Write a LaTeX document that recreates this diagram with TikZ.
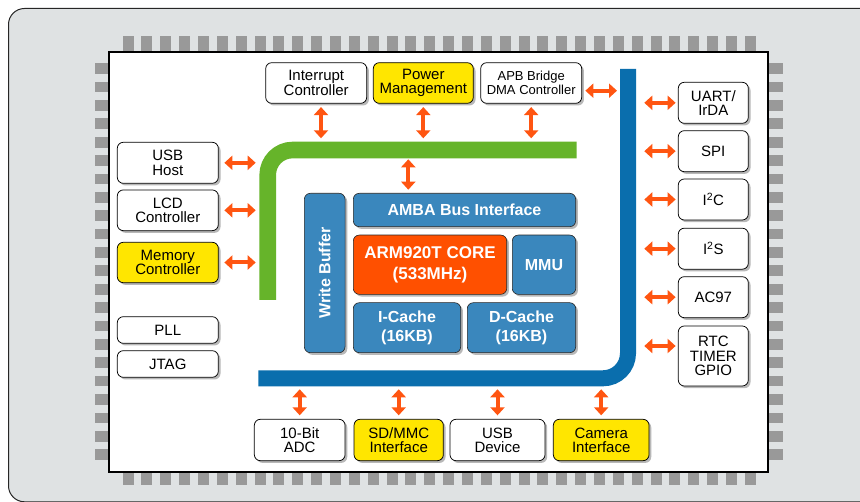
\documentclass[tikz,border=0pt]{standalone}
\usepackage{fontspec}
\usepackage{graphicx}
\setmainfont{Liberation Sans}
\usetikzlibrary{arrows.meta,shadows,calc}
\definecolor{panelgray}{HTML}{DFE2E3}
\definecolor{pingray}{HTML}{999999}
\definecolor{barblue}{HTML}{0A6EAD}
\definecolor{boxblue}{HTML}{3A87BD}
\definecolor{coreorange}{HTML}{FF5000}
\definecolor{myyellow}{HTML}{FFE600}
\definecolor{bargreen}{HTML}{66B42A}
\definecolor{arrorange}{HTML}{FF5511}
\begin{document}
\begin{tikzpicture}[x=1pt,y=-1pt,
  shad/.style={drop shadow={shadow xshift=2.2pt,shadow yshift=-2.2pt,fill=black!28,opacity=1}},
  box/.style={draw=black, line width=0.75pt, rounded corners=6pt, fill=white, align=center,
    inner sep=0pt, font=\fontsize{15}{14.3}\selectfont, shad},
  ybox/.style={box, fill=myyellow},
  bbox/.style={draw=black!85, line width=0.6pt, rounded corners=6pt, fill=boxblue, text=white,
    align=center, inner sep=0pt, font=\bfseries\fontsize{16}{19}\selectfont, shad},
  biarrow/.style={draw=arrorange, line width=4pt,
    {Triangle[width=14pt,length=8pt]}-{Triangle[width=14pt,length=8pt]}},
  pin/.style={fill=pingray, draw=none}
]
\useasboundingbox (0,0) rectangle (860,502);
\clip (0,0) rectangle (860,502);
% outer panel
\draw[fill=panelgray, draw=black!85, line width=1pt, rounded corners=16pt] (8.5,8.5) rectangle (900,501.8);
% pins
\foreach \i in {0,...,33} {
  \fill[pin] ({122.5+\i*18.86},36) rectangle ++(11,16);
  \fill[pin] ({122.5+\i*18.86},472) rectangle ++(11,13);
}
\foreach \i in {0,...,21} {
  \fill[pin] (95,{63.3+\i*18.38}) rectangle ++(14,10.7);
  \fill[pin] (768,{63.3+\i*18.38}) rectangle ++(15,10.7);
}
% chip body
\draw[fill=white, draw=black, line width=1.3pt] (109,52) rectangle (768,472);
% buses
\draw[bargreen, line width=16.6pt, rounded corners=25pt] (267.7,300) -- (267.7,150) -- (576.7,150);
\draw[barblue, line width=16pt, rounded corners=25pt] (628,69) -- (628,378.3) -- (258.3,378.3);
\coordinate (gtop) at (0,141.7);
\coordinate (gleft) at (259.3,0);
\coordinate (gbot) at (408.3,158.3);
\coordinate (bright) at (636,0);
\coordinate (bleft) at (620,0);
\coordinate (bbot) at (0,386.7);
% top peripherals
\node[box, minimum width=101pt, minimum height=40.6pt] (intr) at (316.2,83) {Interrupt\\Controller};
\node[ybox, minimum width=100pt, minimum height=40.6pt] (pwr) at (423.3,83) {Power\\Management};
\node[box, minimum width=101pt, minimum height=40.6pt, font=\fontsize{13}{14}\selectfont] (apb) at (531.2,83) {APB Bridge\\DMA Controller};
% left peripherals
\node[box, minimum width=101pt, minimum height=41pt] (usbh) at (167.8,162.8) {USB\\Host};
\node[box, minimum width=101pt, minimum height=40.7pt] (lcd) at (167.8,210.3) {LCD\\Controller};
\node[ybox, minimum width=101pt, minimum height=40.4pt] (mem) at (167.8,262.5) {Memory\\Controller};
\node[box, minimum width=101pt, minimum height=26.6pt] (pll) at (167.8,330) {PLL};
\node[box, minimum width=101pt, minimum height=26.6pt] (jtag) at (167.8,364) {JTAG};
% right peripherals
\node[box, minimum width=70pt, minimum height=41pt] (uart) at (713.3,102.8) {UART/\\IrDA};
\node[box, minimum width=70pt, minimum height=41pt] (spi) at (713.3,151.2) {SPI};
\node[box, minimum width=70pt, minimum height=41pt] (i2c) at (713.3,199.5) {I\textsuperscript{2}C};
\node[box, minimum width=70pt, minimum height=41pt] (i2s) at (713.3,248.7) {I\textsuperscript{2}S};
\node[box, minimum width=70pt, minimum height=41pt] (ac97) at (713.3,297.2) {AC97};
\node[box, minimum width=70pt, minimum height=60pt] (rtc) at (713.3,356) {RTC\\TIMER\\GPIO};
% bottom peripherals
\node[box, minimum width=90.7pt, minimum height=41.4pt] (adc) at (299.7,440) {10-Bit\\ADC};
\node[ybox, minimum width=89.3pt, minimum height=41.4pt] (sd) at (398.7,440) {SD/MMC\\Interface};
\node[box, minimum width=95pt, minimum height=41.4pt] (usbd) at (497.5,440) {USB\\Device};
\node[ybox, minimum width=95.7pt, minimum height=41.4pt] (cam) at (601.2,440) {Camera\\Interface};
% core block
\node[bbox, minimum width=40.7pt, minimum height=159.4pt] (wb) at (324.7,273) {\rotatebox{90}{Write Buffer}};
\node[bbox, minimum width=222.4pt, minimum height=33.4pt] (amba) at (464.5,210) {AMBA Bus Interface};
\node[bbox, fill=coreorange, minimum width=153.4pt, minimum height=59.3pt, font=\bfseries\fontsize{17}{21}\selectfont] (arm) at (430,264.7) {ARM920T CORE\\(533MHz)};
\node[bbox, minimum width=63.4pt, minimum height=59.3pt] (mmu) at (544,264.7) {MMU};
\node[bbox, minimum width=107.4pt, minimum height=50pt] (icache) at (407,327.7) {I-Cache\\(16KB)};
\node[bbox, minimum width=108.4pt, minimum height=50pt] (dcache) at (521.5,327.7) {D-Cache\\(16KB)};
% connectors: top
\draw[biarrow, shorten <=3.4pt, shorten >=3.4pt] ([xshift=4.8pt]intr.south) -- ([xshift=4.8pt]intr.south |- gtop);
\draw[biarrow, shorten <=3.4pt, shorten >=3.4pt] (pwr.south) -- (pwr.south |- gtop);
\draw[biarrow, shorten <=3.4pt, shorten >=3.4pt] (apb.south) -- (apb.south |- gtop);
\draw[biarrow, shorten <=3.3pt, shorten >=3pt] ([yshift=-7.7pt]apb.east) -- ([yshift=-7.7pt]apb.east -| bleft);
\draw[biarrow, shorten <=1pt, shorten >=3.3pt] (gbot) -- (gbot |- amba.north);
% left
\draw[biarrow, shorten <=5.7pt, shorten >=3.6pt] (usbh.east) -- (usbh.east -| gleft);
\draw[biarrow, shorten <=5.7pt, shorten >=3.6pt] (lcd.east) -- (lcd.east -| gleft);
\draw[biarrow, shorten <=5.7pt, shorten >=3.6pt] (mem.east) -- (mem.east -| gleft);
% right
\foreach \n in {uart,spi,i2c,i2s,ac97} {
  \draw[biarrow, shorten <=2.3pt, shorten >=8.3pt] (\n.west) -- (\n.west -| bright);
}
\draw[biarrow, shorten <=2.3pt, shorten >=8.3pt] ([yshift=10pt]rtc.west) -- ([yshift=10pt]rtc.west -| bright);
% bottom
\foreach \n in {adc,sd,usbd,cam} {
  \draw[biarrow, shorten <=3.6pt, shorten >=2.6pt] (\n.north) -- (\n.north |- bbot);
}
\end{tikzpicture}
\end{document}
